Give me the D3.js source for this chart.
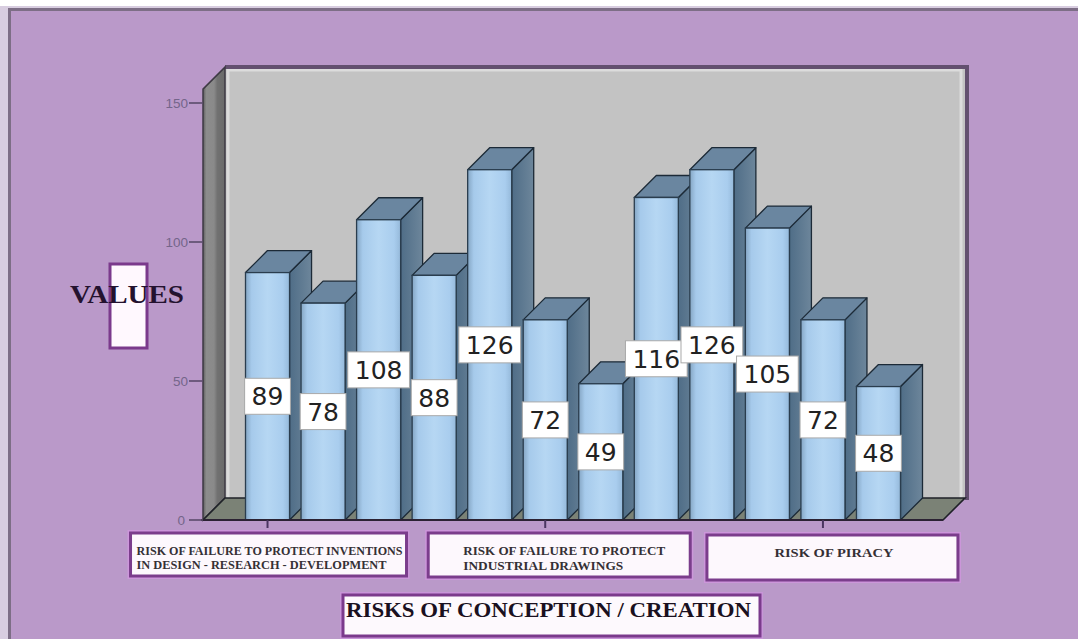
<!DOCTYPE html>
<html>
<head>
<meta charset="utf-8">
<script src="https://cdn.jsdelivr.net/npm/d3@7/dist/d3.min.js"></script>
<style>
  html, body { margin: 0; padding: 0; background: #ffffff; }
  svg { display: block; }
</style>
</head>
<body>
<svg id="chart" width="1078" height="639"></svg>
<script>
// ---- data ----
const barKeys = ["B1", "B2", "B3", "B4", "B5", "B6", "B7", "B8", "B9", "B10", "B11", "B12"];
const barValues = [89, 78, 108, 88, 126, 72, 49, 116, 126, 105, 72, 48];
const groupNames = ["Inventions", "Industrial drawings", "Piracy"];
const groupLabelLines = [
  ["RISK OF FAILURE TO PROTECT INVENTIONS", "IN DESIGN - RESEARCH - DEVELOPMENT"],
  ["RISK OF FAILURE TO PROTECT", "INDUSTRIAL DRAWINGS"],
  ["RISK OF PIRACY"]
];
const yTickValues = [0, 50, 100, 150];
const yTitle = "VALUES";
const xTitle = "RISKS OF CONCEPTION / CREATION";

// ---- layout ----
const W = 1078, H = 639;
const D = 22;                 // depth offset of the 3D box
const plotLeft = 203, plotRight = 943;
const wallTopValue = 155;

const svg = d3.select("#chart");
const defs = svg.append("defs");

const y = d3.scaleLinear().domain([0, 150]).range([520, 103]);
const x = d3.scaleBand().domain(barKeys)
  .range([239.75, 906.25]).paddingInner(0.207).paddingOuter(0.1035);
const bw = x.bandwidth();
const groupX = d3.scalePoint().domain(groupNames)
  .range([x("B1") + bw / 2, x("B11") + bw / 2]);

// gradients
function hGrad(id, stops) {
  const g = defs.append("linearGradient").attr("id", id)
    .attr("x1", "0%").attr("x2", "100%").attr("y1", "0%").attr("y2", "0%");
  stops.forEach(([o, c]) => g.append("stop").attr("offset", o).attr("stop-color", c));
}
hGrad("frontGrad", [[0, "#85a6c4"], [0.14, "#a6caeb"], [0.5, "#b6d7f3"], [0.85, "#a9cdee"], [1, "#95b9da"]]);
hGrad("sideGrad", [[0, "#4f6d87"], [1, "#6d869b"]]);
hGrad("leftWallGrad", [[0, "#5d5d5d"], [0.15, "#8c8c8c"], [0.5, "#8a8a8a"], [0.65, "#717171"], [1, "#6a6a6a"]]);

// ---- frame / background ----
svg.append("rect").attr("x", 0).attr("y", 0).attr("width", W).attr("height", H).attr("fill", "#ffffff");
svg.append("rect").attr("x", 0).attr("y", 6).attr("width", W).attr("height", H - 6).attr("fill", "#d8cde0");
svg.append("rect").attr("x", 9).attr("y", 9).attr("width", W - 9).attr("height", H - 9).attr("fill", "#ba99c9");
svg.append("path").attr("d", `M9.5,${H} V9.5 H${W}`)
  .attr("fill", "none").attr("stroke", "#7d6e86").attr("stroke-width", 3);

// ---- 3D box: back wall, left wall, floor ----
const yTop = y(wallTopValue);
const y0 = y(0);

// back wall
svg.append("rect")
  .attr("x", plotLeft + D).attr("y", yTop - D)
  .attr("width", (plotRight + D) - (plotLeft + D)).attr("height", (y0 - D) - (yTop - D))
  .attr("fill", "#c3c3c3");
// light inner edges of back wall
svg.append("path")
  .attr("d", `M${plotLeft + D + 3},${y0 - D} V${yTop - D + 3} H${plotRight + D - 4} V${y0 - D}`)
  .attr("fill", "none").attr("stroke", "#dcdcdc").attr("stroke-width", 3);
// dark border top and right
svg.append("path")
  .attr("d", `M${plotLeft + D},${yTop - D} H${plotRight + D + 2} V${y0 - D + 2}`)
  .attr("fill", "none").attr("stroke", "#63506f").attr("stroke-width", 4);

// left wall
svg.append("path")
  .attr("d", `M${plotLeft},${yTop} L${plotLeft + D},${yTop - D} L${plotLeft + D},${y0 - D} L${plotLeft},${y0} Z`)
  .attr("fill", "url(#leftWallGrad)").attr("stroke", "#3e3a44").attr("stroke-width", 1.5);

// floor
svg.append("path")
  .attr("d", `M${plotLeft},${y0} L${plotLeft + D},${y0 - D} L${plotRight + D},${y0 - D} L${plotRight},${y0} Z`)
  .attr("fill", "#7b8276").attr("stroke", "#1f2228").attr("stroke-width", 1.6);

// ---- bars ----
const bars = svg.append("g").attr("class", "bars");
barKeys.forEach((k, i) => {
  const v = barValues[i];
  const bx = x(k), by = y(v);
  const g = bars.append("g");
  // side face
  g.append("path")
    .attr("d", `M${bx + bw},${by} L${bx + bw + D},${by - D} L${bx + bw + D},${y0 - D} L${bx + bw},${y0} Z`)
    .attr("fill", "url(#sideGrad)").attr("stroke", "#1c2a37").attr("stroke-width", 1.3)
    .attr("stroke-linejoin", "round");
  // top face
  g.append("path")
    .attr("d", `M${bx},${by} L${bx + D},${by - D} L${bx + bw + D},${by - D} L${bx + bw},${by} Z`)
    .attr("fill", "#6a86a0").attr("stroke", "#1c2a37").attr("stroke-width", 1.3)
    .attr("stroke-linejoin", "round");
  // front face
  g.append("rect")
    .attr("x", bx).attr("y", by).attr("width", bw).attr("height", y0 - by)
    .attr("fill", "url(#frontGrad)").attr("stroke", "#2a3d4e").attr("stroke-width", 1.3);
});

// front floor edge (x axis line)
svg.append("line")
  .attr("x1", plotLeft - 2).attr("x2", plotRight).attr("y1", y0).attr("y2", y0)
  .attr("stroke", "#2b2233").attr("stroke-width", 2);

// ---- value labels ----
const labels = svg.append("g").attr("class", "value-labels");
barKeys.forEach((k, i) => {
  const v = barValues[i];
  const cx = x(k) + bw / 2;
  const cy = (y(v) + y0) / 2;
  const g = labels.append("g");
  const box = g.append("rect");
  const t = g.append("text")
    .attr("x", cx).attr("y", cy + 9)
    .attr("text-anchor", "middle")
    .attr("font-family", "DejaVu Sans, sans-serif")
    .attr("font-size", 25)
    .attr("fill", "#222222")
    .text(v);
  const tw = t.node().getComputedTextLength();
  box.attr("x", cx - tw / 2 - 7).attr("y", cy - 18)
    .attr("width", tw + 14).attr("height", 36)
    .attr("fill", "#ffffff").attr("stroke", "#a9a9a9").attr("stroke-width", 1);
});

// ---- y axis ----
const yAxis = svg.append("g").attr("class", "y-axis");
yTickValues.forEach(v => {
  yAxis.append("line")
    .attr("x1", plotLeft - 14).attr("x2", plotLeft).attr("y1", y(v)).attr("y2", y(v))
    .attr("stroke", "#5b4b6b").attr("stroke-width", 1.6);
  yAxis.append("text")
    .attr("x", plotLeft - (v === 0 ? 18 : 15)).attr("y", y(v) + 5)
    .attr("text-anchor", "end")
    .attr("font-family", "Liberation Sans, Arial, sans-serif")
    .attr("font-size", 13.5)
    .attr("fill", "#74658a")
    .text(v);
});

// ---- x axis group ticks ----
groupNames.forEach(gn => {
  svg.append("line")
    .attr("x1", groupX(gn)).attr("x2", groupX(gn)).attr("y1", y0).attr("y2", y0 + 8)
    .attr("stroke", "#4a3560").attr("stroke-width", 2);
});

// ---- category label boxes ----
const boxDefs = [
  { x0: -137, x1: 139, top: 533, bottom: 576, anchor: "start", tx: -131, lines: [555, 569], widths: [266, 250] },
  { x0: -117, x1: 145, top: 533, bottom: 577, anchor: "start", tx: -82, lines: [555, 570], widths: [202, 160] },
  { x0: -116, x1: 135, top: 535, bottom: 580, anchor: "middle", tx: 11, lines: [557], widths: [119] }
];
groupNames.forEach((gn, gi) => {
  const b = boxDefs[gi];
  const gx = groupX(gn);
  svg.append("rect")
    .attr("x", gx + b.x0 - 2).attr("y", b.top - 2)
    .attr("width", b.x1 - b.x0 + 4).attr("height", b.bottom - b.top + 4)
    .attr("fill", "none").attr("stroke", "#cc96da").attr("stroke-width", 2);
  svg.append("rect")
    .attr("x", gx + b.x0).attr("y", b.top)
    .attr("width", b.x1 - b.x0).attr("height", b.bottom - b.top)
    .attr("fill", "#fdf8fd").attr("stroke", "#7b3d8c").attr("stroke-width", 3);
  groupLabelLines[gi].forEach((line, li) => {
    svg.append("text")
      .attr("x", gx + b.tx).attr("y", b.lines[li])
      .attr("text-anchor", b.anchor)
      .attr("font-family", "Liberation Serif, Times New Roman, serif")
      .attr("font-weight", "bold")
      .attr("font-size", 11.5)
      .attr("fill", "#353035")
      .attr("textLength", b.widths[li])
      .attr("lengthAdjust", "spacingAndGlyphs")
      .text(line);
  });
});

// ---- y title ----
svg.append("rect")
  .attr("x", 110).attr("y", 264).attr("width", 37).attr("height", 84)
  .attr("fill", "#fff8fe").attr("stroke", "#7b3a8c").attr("stroke-width", 3);
svg.append("text")
  .attr("x", 70).attr("y", 303)
  .attr("font-family", "Liberation Serif, Times New Roman, serif")
  .attr("font-weight", "bold")
  .attr("font-size", 26)
  .attr("fill", "#24122f")
  .attr("textLength", 114)
  .attr("lengthAdjust", "spacingAndGlyphs")
  .text(yTitle);

// ---- x title ----
svg.append("rect")
  .attr("x", 341).attr("y", 593).attr("width", 421).attr("height", 45)
  .attr("fill", "none").attr("stroke", "#c895d8").attr("stroke-width", 2);
svg.append("rect")
  .attr("x", 343).attr("y", 595).attr("width", 417).attr("height", 41)
  .attr("fill", "#fdf9fd").attr("stroke", "#7b3a8c").attr("stroke-width", 3);
svg.append("text")
  .attr("x", 346).attr("y", 617)
  .attr("font-family", "Liberation Serif, Times New Roman, serif")
  .attr("font-weight", "bold")
  .attr("font-size", 21)
  .attr("fill", "#1a1020")
  .attr("textLength", 405)
  .attr("lengthAdjust", "spacingAndGlyphs")
  .text(xTitle);
</script>
</body>
</html>
